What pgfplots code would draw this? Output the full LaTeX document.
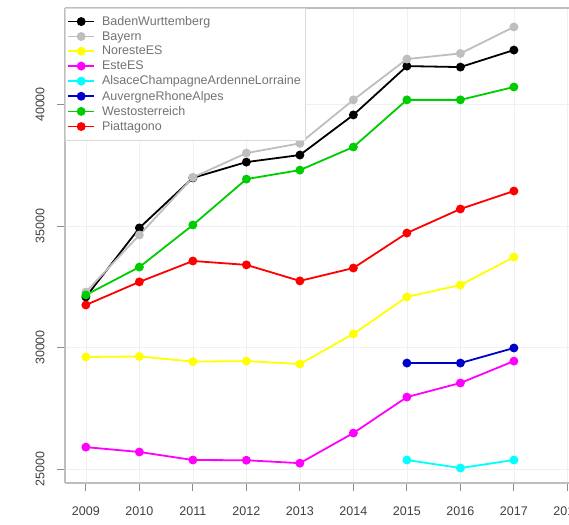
\documentclass[border=0pt]{standalone}
\usepackage{pgfplots}
\pgfplotsset{compat=1.18}
\usepackage{fontspec}
\setmainfont{Liberation Sans}

\definecolor{sBW}{RGB}{0,0,0}
\definecolor{sBY}{RGB}{190,190,190}
\definecolor{sNO}{RGB}{255,255,0}
\definecolor{sES}{RGB}{255,0,255}
\definecolor{sAL}{RGB}{0,255,255}
\definecolor{sAU}{RGB}{0,0,205}
\definecolor{sWE}{RGB}{0,205,0}
\definecolor{sPI}{RGB}{255,0,0}
\definecolor{frame}{RGB}{190,190,190}

\begin{document}
\begin{tikzpicture}
\begin{axis}[
  scale only axis,
  width=504pt, height=475pt,
  xmin=2008.61, xmax=2018.03,
  ymin=24424, ymax=43971,
  axis y line*=left,
  axis line style={draw=frame, line width=1.5pt},
  xtick={2009,2010,...,2018},
  ytick={25000,30000,35000,40000},
  scaled y ticks=false,
  x tick label style={/pgf/number format/1000 sep={}, yshift=-12pt},
  y tick label style={/pgf/number format/1000 sep={}, rotate=90, anchor=south, yshift=9pt},
  /pgf/number format/assume math mode=true,
  tick label style={font=\fontsize{12.5}{14}\selectfont, text=black!75},
  tick align=outside, tick pos=left,
  major tick length=8pt,
  tick style={draw=black!45, line width=0.8pt},
  grid=major,
  major grid style={draw=black!6, line width=0.6pt},
  legend style={at={(0,1)}, anchor=north west, draw=black!15, line width=0.6pt,
    font=\fontsize{12.5}{14}\selectfont, text=black!55, inner xsep=2pt, inner ysep=6pt,
    row sep=0.6pt},
  legend cell align=left,
  legend image code/.code={
    \draw[#1, mark repeat=2, mark phase=2] plot coordinates {(0pt,0pt) (13pt,0pt) (26pt,0pt)};
    \path (31pt,0pt);},
  every axis plot/.append style={line width=1.8pt, mark=*, mark size=3.5pt},
]
% BadenWurttemberg
\addplot[color=sBW, mark options={fill=sBW}] coordinates {
  (2009,32080) (2010,34920) (2011,36980) (2012,37630) (2013,37920)
  (2014,39570) (2015,41580) (2016,41540) (2017,42240)};
\addlegendentry{BadenWurttemberg}
% Bayern
\addplot[color=sBY, mark options={fill=sBY}] coordinates {
  (2009,32280) (2010,34630) (2011,37000) (2012,38000) (2013,38400)
  (2014,40190) (2015,41870) (2016,42100) (2017,43190)};
\addlegendentry{Bayern}
% NoresteES
\addplot[color=sNO, mark options={fill=sNO}] coordinates {
  (2009,29610) (2010,29630) (2011,29420) (2012,29440) (2013,29320)
  (2014,30560) (2015,32080) (2016,32570) (2017,33720)};
\addlegendentry{NoresteES}
% EsteES
\addplot[color=sES, mark options={fill=sES}] coordinates {
  (2009,25900) (2010,25700) (2011,25370) (2012,25360) (2013,25240)
  (2014,26480) (2015,27960) (2016,28540) (2017,29440)};
\addlegendentry{EsteES}
% AlsaceChampagneArdenneLorraine
\addplot[color=sAL, mark options={fill=sAL}] coordinates {
  (2015,25370) (2016,25040) (2017,25370)};
\addlegendentry{AlsaceChampagneArdenneLorraine}
% AuvergneRhoneAlpes
\addplot[color=sAU, mark options={fill=sAU}] coordinates {
  (2015,29360) (2016,29360) (2017,29980)};
\addlegendentry{AuvergneRhoneAlpes}
% Westosterreich
\addplot[color=sWE, mark options={fill=sWE}] coordinates {
  (2009,32160) (2010,33310) (2011,35040) (2012,36930) (2013,37300)
  (2014,38250) (2015,40190) (2016,40190) (2017,40720)};
\addlegendentry{Westosterreich}
% Piattagono
\addplot[color=sPI, mark options={fill=sPI}] coordinates {
  (2009,31750) (2010,32700) (2011,33560) (2012,33400) (2013,32740)
  (2014,33270) (2015,34710) (2016,35700) (2017,36440)};
\addlegendentry{Piattagono}
\end{axis}
\pgfresetboundingbox
\path[use as bounding box] ([xshift=-65pt,yshift=-41pt]current axis.south west)
  rectangle ([yshift=8pt]current axis.north east);
\end{tikzpicture}
\end{document}
